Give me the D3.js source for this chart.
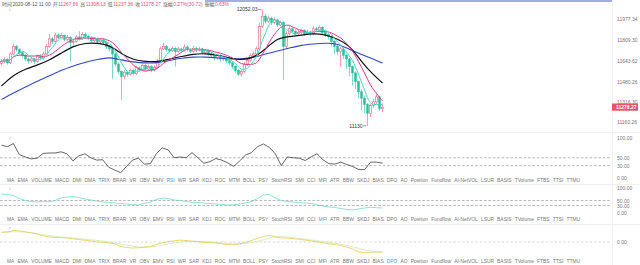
<!DOCTYPE html>
<html><head><meta charset="utf-8">
<script src="https://cdn.jsdelivr.net/npm/d3@7"></script>
<style>
html,body{margin:0;padding:0;background:#fff;}
svg{display:block;font-family:"Liberation Sans",Arial,"Noto Sans CJK SC",sans-serif;}
</style></head><body>
<svg id="chart" width="640" height="265"></svg>
<script>
// candles (first open, then closes / highs / lows)
const firstOpen = 11625
const closes = [11640,11655,11630,11700,11760,11735,11710,11690,11660,11645,11660,11640,11680,11670,11700,11760,
  11820,11800,11850,11830,11845,11815,11830,11790,11800,11835,11820,11855,11840,11830,11805,11820,
  11795,11810,11790,11760,11740,11700,11620,11560,11520,11555,11540,11570,11545,11590,11575,11610,
  11580,11600,11570,11595,11640,11740,11760,11735,11725,11745,11720,11740,11730,11755,11735,11720,
  11745,11730,11740,11710,11725,11700,11690,11670,11690,11660,11670,11645,11630,11600,11570,11540,
  11560,11620,11650,11690,11700,11740,11920,12000,11960,11985,11950,11970,11930,11950,11760,11860,
  11900,11880,11860,11870,11885,11860,11875,11860,11900,11890,11910,11870,11855,11840,11800,11760,
  11720,11740,11690,11660,11600,11550,11480,11400,11350,11300,11230,11290,11320,11360,11267.66,11278.27]
const highs = [11660,11675,11670,11715,11780,11770,11745,11725,11700,11675,11680,11670,11695,11700,11720,11780,
  11860,11835,11870,11865,11870,11855,11850,11840,11815,11850,11880,11875,11870,11855,11840,11835,
  11830,11825,11820,11800,11770,11750,11710,11630,11570,11570,11565,11585,11580,11605,11600,11625,
  11620,11615,11610,11610,11660,11760,11790,11770,11750,11760,11755,11755,11750,11775,11770,11745,
  11765,11760,11755,11750,11740,11735,11715,11700,11705,11700,11690,11680,11660,11640,11610,11580,
  11575,11635,11665,11705,11720,11760,11950,12052.03,12020,12005,11995,11990,11980,11965,11960,11880,
  11920,11910,11895,11890,11900,11895,11890,11885,11920,11915,11925,11920,11880,11865,11850,11810,
  11770,11755,11750,11700,11670,11610,11560,11490,11420,11370,11310,11305,11345,11385,11370,11308.13]
const lows = [11610,11625,11615,11620,11690,11720,11695,11670,11640,11625,11630,11620,11630,11650,11655,11690,
  11750,11780,11790,11815,11820,11800,11800,11640,11770,11790,11805,11810,11820,11810,11790,11795,
  11780,11780,11770,11740,11720,11500,11600,11540,11335,11500,11520,11530,11530,11535,11560,11565,
  11560,11570,11555,11560,11585,11630,11730,11720,11710,11715,11600,11710,11710,11720,11720,11705,
  11710,11715,11720,11695,11700,11685,11670,11650,11655,11640,11645,11625,11610,11580,11550,11525,
  11520,11550,11605,11640,11675,11690,11730,11905,11940,11945,11930,11935,11915,11920,11493,11740,
  11845,11860,11840,11845,11855,11845,11850,11840,11850,11875,11880,11855,11835,11815,11760,11700,
  11690,11600,11660,11580,11520,11450,11420,11350,11250,11230,11130,11200,11270,11300,11250,11237.36]

// slower averages (one value every 4 candles, last = final candle)
const ma30 = [11446,11533,11581,11612,11652,11708,11763,11787,11787,11771,11700,11652,11640,11636,11660,11680,
  11700,11704,11692,11668,11652,11668,11739,11827,11838,11850,11862,11854,11819,11771,11636,11533,11470]
const ma99 = [11339,11390,11438,11486,11525,11573,11605,11636,11656,11676,11652,11636,11628,11628,11648,11668,
  11676,11676,11668,11660,11660,11672,11700,11724,11747,11771,11779,11787,11783,11735,11697,11658,11628]

// indicator panels
const rsi = [82,78,86,58,52,47,49,61,62,62,65,60,42,55,60,50,44,45,26,19,12,28,44,49,34,35,60,75,70,50,52,50,
  63,50,36,40,48,44,37,28,42,57,63,78,85,76,60,30,52,50,49,43,52,60,45,35,34,39,33,28,20,20,39,39,36]
const mfi = [76,74,70,58,50,46,44,46,45,50,60,64,66,62,56,52,48,44,42,40,38,36,34,32,38,44,54,60,58,52,50,46,
  43,42,40,38,36,34,32,33,36,40,46,58,72,74,60,50,46,44,42,40,38,33,28,24,22,18,14,12,16,20,23,21,20]
const dpo = [100,100,115,112,102,92,80,62,50,46,43,40,32,24,18,10,2,-3,-8,-18,-45,-55,-60,-57,-52,-45,-25,-8,4,12,18,15,
  8,2,-3,-6,-10,-18,-26,-28,-18,-5,15,38,55,68,50,40,40,34,26,20,10,2,-8,-18,-26,-35,-50,-70,-100,-108,-102,-100,-100]
const dpoSignal = [95,105,100,85,62,50,40,28,15,4,-20,-45,-55,-45,-20,2,10,5,-3,-15,-22,-10,20,62,50,35,20,5,-12,-32,-65,-95,-100]

const priceTicks = [11977.34, 11809.30, 11643.62, 11480.26, 11316.30, 11160.26]
const header = [["时间","2020-08-12 11:00"],["开","11267.66"],["高","11308.13"],["低","11237.36"],
  ["收","11278.27"],["涨幅","0.27%(30.72)"],["振幅","0.63%"]]
const tabNames = ["MA","EMA","VOLUME","MACD","DMI","DMA","TRIX","BRAR","VR","OBV","EMV","RSI","WR","SAR","KDJ",
  "ROC","MTM","BOLL","PSY","StochRSI","SMI","CCI","MFI","ATR","BBW","SKDJ","BIAS","DPO","AO","Position",
  "Fundflow","AI-NetVOL","LSUR","BASIS","TVolume","FTBS","TTSI","TTMU"]

const svg = d3.select("#chart")
const W = 612
const up = "#ef5b78", down = "#2bbd9c"

const n = closes.length
const opens = closes.map((c, i) => i ? closes[i-1] : firstOpen)
const x = d3.scaleLinear().domain([0, n-1]).range([1.5, 382.5])
const y = d3.scaleLinear().domain([11160.26, 11977.34]).range([122, 19])

// separators
svg.append("g").selectAll("line").data([132.5, 184.5, 224.5]).enter().append("line")
  .attr("x1", 0).attr("x2", 640).attr("y1", d => d).attr("y2", d => d)
  .attr("stroke", "#ececec").attr("stroke-width", 0.8)
svg.append("line").attr("x1", W+0.5).attr("x2", W+0.5).attr("y1", 0).attr("y2", 265)
  .attr("stroke", "#ececec").attr("stroke-width", 0.8)
svg.append("line").attr("x1", 205).attr("x2", W).attr("y1", 1).attr("y2", 1)
  .attr("stroke", "#4b5bd0").attr("stroke-width", 1.2)

// candles
const cg = svg.append("g")
const idx = d3.range(n)
cg.selectAll("line").data(idx).enter().append("line")
  .attr("x1", i => x(i)).attr("x2", i => x(i))
  .attr("y1", i => y(highs[i])).attr("y2", i => y(lows[i]))
  .attr("stroke", i => closes[i] >= opens[i] ? up : down).attr("stroke-width", 0.6)
cg.selectAll("rect").data(idx).enter().append("rect")
  .attr("x", i => x(i) - 0.85).attr("width", 1.7)
  .attr("y", i => y(Math.max(opens[i], closes[i])))
  .attr("height", i => Math.max(0.6, Math.abs(y(opens[i]) - y(closes[i]))))
  .attr("fill", i => closes[i] >= opens[i] ? "#fff" : down)
  .attr("stroke", i => closes[i] >= opens[i] ? up : down).attr("stroke-width", 0.6)

// moving averages
function sma(arr, k) {
  return arr.map((d, i) => d3.mean(arr.slice(Math.max(0, i-k+1), i+1)))
}
const priceLine = d3.line().x((d, i) => x(i)).y(d => y(d)).curve(d3.curveMonotoneX)
const sampledLine = arr => d3.line()
  .x((d, i) => i === arr.length-1 ? x(n-1) : x(i*4)).y(d => y(d)).curve(d3.curveBasis)
svg.append("path").datum(ma99).attr("d", sampledLine(ma99)).attr("fill", "none").attr("stroke", "#3446c8").attr("stroke-width", 1.1)
svg.append("path").datum(ma30).attr("d", sampledLine(ma30)).attr("fill", "none").attr("stroke", "#111").attr("stroke-width", 1.2)
svg.append("path").datum(sma(closes, 10)).attr("d", priceLine).attr("fill", "none").attr("stroke", "#e2348a").attr("stroke-width", 1)
svg.append("path").datum(sma(closes, 5)).attr("d", priceLine).attr("fill", "none").attr("stroke", "#3fd9cc").attr("stroke-width", 1)

// high / low markers
const hi = d3.maxIndex(highs), lo = d3.minIndex(lows)
svg.append("text").attr("x", x(hi) - 5).attr("y", y(highs[hi]) + 1.8).attr("text-anchor", "end")
  .attr("font-size", 5).attr("fill", "#333").text(String(highs[hi]))
svg.append("line").attr("x1", x(hi) - 4.5).attr("x2", x(hi) - 1).attr("y1", y(highs[hi])).attr("y2", y(highs[hi]))
  .attr("stroke", "#555").attr("stroke-width", 0.6)
svg.append("text").attr("x", x(lo) - 5).attr("y", y(lows[lo]) + 1.8).attr("text-anchor", "end")
  .attr("font-size", 5).attr("fill", "#333").text(String(lows[lo]))
svg.append("line").attr("x1", x(lo) - 4.5).attr("x2", x(lo) - 1).attr("y1", y(lows[lo])).attr("y2", y(lows[lo]))
  .attr("stroke", "#555").attr("stroke-width", 0.6)

// price axis
const axisStyle = g => {
  g.select(".domain").remove()
  g.selectAll("text").attr("font-size", 5).attr("fill", "#777").attr("font-family", "Liberation Sans, Arial")
}
svg.append("g").attr("transform", `translate(${W},0)`)
  .call(d3.axisRight(y).tickValues(priceTicks).tickFormat(d3.format(".2f")).tickSize(0).tickPadding(5))
  .call(axisStyle)
const last = closes[n-1]
svg.append("rect").attr("x", W).attr("y", y(last) - 3.6).attr("width", 26).attr("height", 7.2).attr("fill", "#e8506c")
svg.append("text").attr("x", W + 4).attr("y", y(last) + 1.8).attr("font-size", 5).attr("font-weight", "bold")
  .attr("fill", "#fff").text(d3.format(".2f")(last))

// header
const ht = svg.append("text").attr("x", 2).attr("y", 5.5).attr("font-size", 4.9)
header.forEach(([k, v], j) => {
  ht.append("tspan").attr("fill", "#555").attr("dx", j ? 2 : 0).text(k)
  ht.append("tspan").attr("fill", j ? "#e8506c" : "#555").attr("dx", 0.6).text(v)
})

// collapse marks
svg.selectAll(".chev").data([11, 139, 190, 229]).enter().append("text").attr("class", "chev")
  .attr("x", 9).attr("y", d => d).attr("font-size", 5).attr("fill", "#aaa").text("›")

// indicator panels
function panel(values, yS, color, ticks, dashes, extra) {
  const px = d3.scaleLinear().domain([0, values.length-1]).range([x(0), x(n-1)])
  svg.append("g").selectAll("line").data(dashes).enter().append("line")
    .attr("x1", 0).attr("x2", W - 2).attr("y1", d => yS(d)).attr("y2", d => yS(d))
    .attr("stroke", dashes.length > 1 ? "#999" : "#ccc").attr("stroke-width", 0.7).attr("stroke-dasharray", "2.6,1.8")
  if (extra) {
    const ex = d3.scaleLinear().domain([0, extra.values.length-1]).range([x(0), x(n-1)])
    svg.append("path").datum(extra.values)
      .attr("d", d3.line().x((d, i) => ex(i)).y(d => yS(d)).curve(d3.curveBasis))
      .attr("fill", "none").attr("stroke", extra.color).attr("stroke-width", 0.8)
  }
  svg.append("path").datum(values)
    .attr("d", d3.line().x((d, i) => px(i)).y(d => yS(d)).curve(d3.curveLinear))
    .attr("fill", "none").attr("stroke", color).attr("stroke-width", 0.75)
  svg.append("g").attr("transform", `translate(${W},0)`)
    .call(d3.axisRight(yS).tickValues(ticks).tickFormat(d3.format(".2f")).tickSize(0).tickPadding(5))
    .call(axisStyle)
}
panel(rsi, d3.scaleLinear().domain([0, 100]).range([177.5, 138]), "#333", [100, 50, 30, 0], [50, 30])
panel(mfi, d3.scaleLinear().domain([0, 100]).range([213, 188]), "#6ad6c6", [100, 50, 30, 0], [50, 30])
panel(dpo, d3.scaleLinear().domain([-150, 150]).range([257, 227]), "#e6c84c", [0], [0],
  {values: dpoSignal, color: "#d3e8a6"})

// indicator tab rows
function tabs(yy, active) {
  const g = svg.append("g")
  const t = g.selectAll("text").data(tabNames).enter().append("text")
    .attr("y", yy).attr("font-size", 4.9)
    .attr("fill", d => d === active ? "#4d9be6" : "#777").text(d => d)
  const widths = t.nodes().map(el => el.getComputedTextLength())
  const gap = (580 - 7 - d3.sum(widths)) / (tabNames.length - 1)
  let cx = 7
  t.attr("x", (d, i) => { const v = cx; cx += widths[i] + gap; return v })
}
tabs(181.8, "RSI")
tabs(220.8, "MFI")
tabs(262.8, "DPO")
</script>
</body></html>
